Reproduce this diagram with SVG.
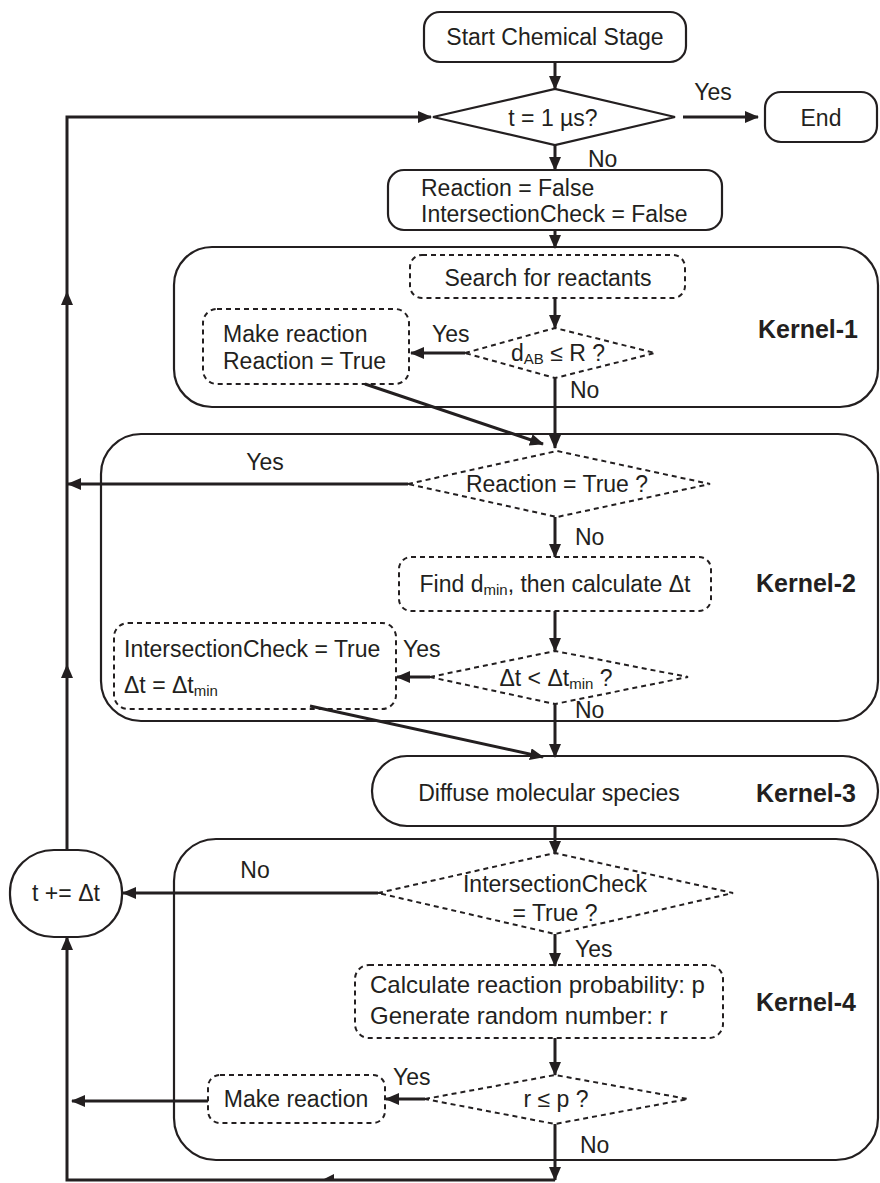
<svg xmlns="http://www.w3.org/2000/svg" width="880" height="1183" viewBox="0 0 880 1183">
<defs>
<marker id="ah" viewBox="0 0 14 12" refX="13" refY="6" markerWidth="14" markerHeight="12" markerUnits="userSpaceOnUse" orient="auto">
<path d="M0,0 L14,6 L0,12 z" fill="#231f20"/>
</marker>
<style>
.box{fill:none;stroke:#231f20;stroke-width:2.2}
.dash{fill:none;stroke:#231f20;stroke-width:2;stroke-dasharray:5 4}
.con{fill:none;stroke:#231f20;stroke-width:3}
.arr{fill:none;stroke:#231f20;stroke-width:3;marker-end:url(#ah)}
text{font-family:"Liberation Sans",Arial,Helvetica,sans-serif;font-size:23px;fill:#231f20}
.c{text-anchor:middle}
.k{font-weight:bold;font-size:25px;text-anchor:middle}
.sub{font-size:15px}
.big{font-size:24px}
</style>
</defs>
<rect width="880" height="1183" fill="#ffffff"/>

<g id="kernel1-frame"><rect class="box" x="174" y="247" width="704" height="160" rx="38"/><text class="k" x="808" y="338">Kernel-1</text></g>
<g id="kernel2-frame"><rect class="box" x="101" y="434" width="777" height="287" rx="40"/><text class="k" x="806" y="592">Kernel-2</text></g>
<g id="kernel3"><rect class="box" x="372" y="756" width="506" height="70" rx="35"/><text class="c" x="549" y="801">Diffuse molecular species</text><text class="k" x="806" y="802">Kernel-3</text></g>
<g id="kernel4-frame"><rect class="box" x="174" y="839" width="704" height="321" rx="42"/><text class="k" x="806" y="1011">Kernel-4</text></g>

<g id="start"><rect class="box" x="424" y="12" width="262" height="50" rx="16"/><text class="c" x="555" y="45">Start Chemical Stage</text></g>
<g id="check-time"><polygon class="box" points="433,117 555,89 675,117 555,145"/><text class="c" x="553" y="126">t = 1 µs?</text></g>
<g id="end"><rect class="box" x="765" y="92" width="112" height="50" rx="16"/><text class="c" x="821" y="126">End</text></g>
<g id="init"><rect class="box" x="388" y="170" width="334" height="60" rx="16"/><text x="421" y="196">Reaction = False</text><text x="421" y="222">IntersectionCheck = False</text></g>

<g id="search"><rect class="dash" x="410" y="255" width="275" height="43" rx="12"/><text class="c" x="548" y="286">Search for reactants</text></g>
<g id="dab"><polygon class="dash" points="465,353 555,328 655,353 555,378"/><text class="c" x="558" y="361">d<tspan class="sub" dy="3">AB</tspan><tspan dy="-3"> ≤ R ?</tspan></text></g>
<g id="make-reaction-1"><rect class="dash" x="203" y="309" width="206" height="75" rx="14"/><text x="223" y="342">Make reaction</text><text x="223" y="369">Reaction = True</text></g>

<g id="reaction-true"><polygon class="dash" points="408,484 557,451 710,484 557,517"/><text class="c" x="557" y="492">Reaction = True ?</text></g>
<g id="find-dmin"><rect class="dash" x="399" y="557" width="312" height="54" rx="12"/><text class="c" x="555" y="592">Find d<tspan class="sub" dy="3">min</tspan><tspan dy="-3">, then calculate Δt</tspan></text></g>
<g id="dt-check"><polygon class="dash" points="430,677 555,651 688,677 555,704"/><text class="c" x="556" y="686">Δt &lt; Δt<tspan class="sub" dy="3">min</tspan><tspan dy="-3"> ?</tspan></text></g>
<g id="set-intersection"><rect class="dash" x="114" y="623" width="282" height="86" rx="14"/><text x="124" y="657">IntersectionCheck = True</text><text x="124" y="693">Δt = Δt<tspan class="sub" dy="3">min</tspan></text></g>

<g id="intersection-check"><polygon class="dash" points="378,893 555,853 733,893 555,934"/><text class="c" x="555" y="892">IntersectionCheck</text><text class="c" x="555" y="921">= True ?</text></g>
<g id="calc-prob"><rect class="dash" x="355" y="965" width="368" height="73" rx="14"/><text class="big" x="370" y="993">Calculate reaction probability: p</text><text class="big" x="370" y="1024">Generate random number: r</text></g>
<g id="r-le-p"><polygon class="dash" points="425,1099 555,1075 688,1099 555,1124"/><text class="c" x="556" y="1107">r ≤ p ?</text></g>
<g id="make-reaction-2"><rect class="dash" x="208" y="1075" width="177" height="48" rx="12"/><text class="c" x="296" y="1107">Make reaction</text></g>
<g id="t-increment"><rect class="box" x="10" y="850" width="112" height="87" rx="44" ry="42"/><text class="c" x="66" y="901">t += Δt</text></g>

<g id="connectors">
<line class="arr" x1="555" y1="62" x2="555" y2="89"/>
<line class="arr" x1="683" y1="117" x2="758" y2="117"/>
<line class="arr" x1="555" y1="145" x2="555" y2="170"/>
<line class="arr" x1="555" y1="230" x2="555" y2="248"/>
<line class="arr" x1="555" y1="298" x2="555" y2="328"/>
<line class="arr" x1="465" y1="353" x2="411" y2="353"/>
<line class="arr" x1="555" y1="378" x2="555" y2="448"/>
<line class="arr" x1="365" y1="384" x2="543" y2="444"/>
<line class="arr" x1="408" y1="484" x2="68" y2="484"/>
<line class="arr" x1="555" y1="517" x2="555" y2="557"/>
<line class="arr" x1="555" y1="611" x2="555" y2="651"/>
<line class="arr" x1="430" y1="677" x2="397" y2="677"/>
<line class="con" x1="555" y1="704" x2="555" y2="740"/>
<line class="arr" x1="555" y1="740" x2="555" y2="757"/>
<line class="arr" x1="310" y1="706" x2="543" y2="757"/>
<line class="arr" x1="555" y1="826" x2="555" y2="854"/>
<line class="arr" x1="378" y1="893" x2="123" y2="893"/>
<line class="arr" x1="555" y1="934" x2="555" y2="966"/>
<line class="arr" x1="555" y1="1038" x2="555" y2="1075"/>
<line class="arr" x1="425" y1="1099" x2="386" y2="1099"/>
<line class="arr" x1="208" y1="1101" x2="72" y2="1101"/>
<line class="arr" x1="555" y1="1124" x2="555" y2="1180"/>
<polyline class="arr" points="555,1180 67,1180 67,937"/>
<path d="M322,1180 L334,1174 L334,1180 z" fill="#231f20"/>
<line class="arr" x1="67" y1="850" x2="67" y2="665"/>
<line class="arr" x1="67" y1="665" x2="67" y2="292"/>
<polyline class="arr" points="67,292 67,117 431,117"/>
</g>

<g id="labels">
<text class="c" x="713" y="100">Yes</text>
<text x="588" y="167">No</text>
<text x="432" y="342">Yes</text>
<text x="570" y="398">No</text>
<text class="c" x="265" y="470">Yes</text>
<text x="575" y="545">No</text>
<text x="403" y="657">Yes</text>
<text x="575" y="718">No</text>
<text class="c" x="255" y="878">No</text>
<text x="575" y="957">Yes</text>
<text x="393" y="1085">Yes</text>
<text x="580" y="1153">No</text>
</g>
</svg>
